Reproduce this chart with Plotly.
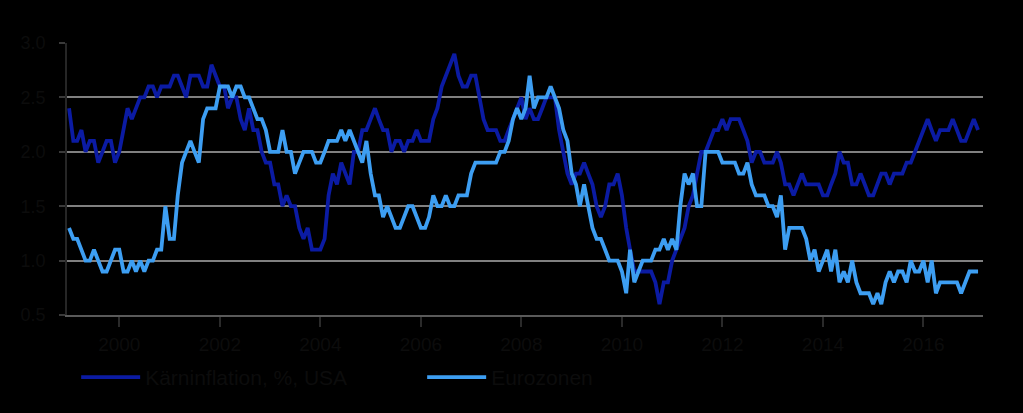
import pandas as pd
import plotly.graph_objects as go

# Monthly, Jan 1999 - Feb 2017
start_month = "1999-01-01"

usa_core = [
    2.4, 2.1, 2.1, 2.2, 2.0, 2.1, 2.1, 1.9, 2.0, 2.1, 2.1, 1.9,   # 1999
    2.0, 2.2, 2.4, 2.3, 2.4, 2.5, 2.5, 2.6, 2.6, 2.5, 2.6, 2.6,   # 2000
    2.6, 2.7, 2.7, 2.6, 2.5, 2.7, 2.7, 2.7, 2.6, 2.6, 2.8, 2.7,   # 2001
    2.6, 2.6, 2.4, 2.5, 2.5, 2.3, 2.2, 2.4, 2.2, 2.2, 2.0, 1.9,   # 2002
    1.9, 1.7, 1.7, 1.5, 1.6, 1.5, 1.5, 1.3, 1.2, 1.3, 1.1, 1.1,   # 2003
    1.1, 1.2, 1.6, 1.8, 1.7, 1.9, 1.8, 1.7, 2.0, 2.0, 2.2, 2.2,   # 2004
    2.3, 2.4, 2.3, 2.2, 2.2, 2.0, 2.1, 2.1, 2.0, 2.1, 2.1, 2.2,   # 2005
    2.1, 2.1, 2.1, 2.3, 2.4, 2.6, 2.7, 2.8, 2.9, 2.7, 2.6, 2.6,   # 2006
    2.7, 2.7, 2.5, 2.3, 2.2, 2.2, 2.2, 2.1, 2.1, 2.2, 2.3, 2.4,   # 2007
    2.5, 2.3, 2.4, 2.3, 2.3, 2.4, 2.5, 2.5, 2.5, 2.2, 2.0, 1.8,   # 2008
    1.7, 1.8, 1.8, 1.9, 1.8, 1.7, 1.5, 1.4, 1.5, 1.7, 1.7, 1.8,   # 2009
    1.6, 1.3, 1.1, 0.9, 0.9, 0.9, 0.9, 0.9, 0.8, 0.6, 0.8, 0.8,   # 2010
    1.0, 1.1, 1.2, 1.3, 1.5, 1.6, 1.8, 2.0, 2.0, 2.1, 2.2, 2.2,   # 2011
    2.3, 2.2, 2.3, 2.3, 2.3, 2.2, 2.1, 1.9, 2.0, 2.0, 1.9, 1.9,   # 2012
    1.9, 2.0, 1.9, 1.7, 1.7, 1.6, 1.7, 1.8, 1.7, 1.7, 1.7, 1.7,   # 2013
    1.6, 1.6, 1.7, 1.8, 2.0, 1.9, 1.9, 1.7, 1.7, 1.8, 1.7, 1.6,   # 2014
    1.6, 1.7, 1.8, 1.8, 1.7, 1.8, 1.8, 1.8, 1.9, 1.9, 2.0, 2.1,   # 2015
    2.2, 2.3, 2.2, 2.1, 2.2, 2.2, 2.2, 2.3, 2.2, 2.1, 2.1, 2.2,   # 2016
    2.3, 2.2,                                                     # 2017
]

ez_core = [
    1.3, 1.2, 1.2, 1.1, 1.0, 1.0, 1.1, 1.0, 0.9, 0.9, 1.0, 1.1,   # 1999
    1.1, 0.9, 0.9, 1.0, 0.9, 1.0, 0.9, 1.0, 1.0, 1.1, 1.1, 1.5,   # 2000
    1.2, 1.2, 1.6, 1.9, 2.0, 2.1, 2.0, 1.9, 2.3, 2.4, 2.4, 2.4,   # 2001
    2.6, 2.6, 2.6, 2.5, 2.6, 2.6, 2.5, 2.5, 2.4, 2.3, 2.3, 2.2,   # 2002
    2.0, 2.0, 2.0, 2.2, 2.0, 2.0, 1.8, 1.9, 2.0, 2.0, 2.0, 1.9,   # 2003
    1.9, 2.0, 2.1, 2.1, 2.1, 2.2, 2.1, 2.2, 2.1, 2.0, 1.9, 2.1,   # 2004
    1.8, 1.6, 1.6, 1.4, 1.5, 1.4, 1.3, 1.3, 1.4, 1.5, 1.5, 1.4,   # 2005
    1.3, 1.3, 1.4, 1.6, 1.5, 1.5, 1.6, 1.5, 1.5, 1.6, 1.6, 1.6,   # 2006
    1.8, 1.9, 1.9, 1.9, 1.9, 1.9, 1.9, 2.0, 2.0, 2.1, 2.3, 2.4,   # 2007
    2.3, 2.4, 2.7, 2.4, 2.5, 2.5, 2.5, 2.6, 2.5, 2.4, 2.2, 2.1,   # 2008
    1.8, 1.7, 1.5, 1.7, 1.5, 1.3, 1.2, 1.2, 1.1, 1.0, 1.0, 1.0,   # 2009
    0.9, 0.7, 1.1, 0.8, 0.9, 1.0, 1.0, 1.0, 1.1, 1.1, 1.2, 1.1,   # 2010
    1.2, 1.1, 1.5, 1.8, 1.7, 1.8, 1.5, 1.5, 2.0, 2.0, 2.0, 2.0,   # 2011
    1.9, 1.9, 1.9, 1.9, 1.8, 1.8, 1.9, 1.7, 1.6, 1.6, 1.6, 1.5,   # 2012
    1.5, 1.4, 1.6, 1.1, 1.3, 1.3, 1.3, 1.3, 1.2, 1.0, 1.1, 0.9,   # 2013
    1.0, 1.1, 0.9, 1.1, 0.8, 0.9, 0.8, 1.0, 0.8, 0.7, 0.7, 0.7,   # 2014
    0.6, 0.7, 0.6, 0.8, 0.9, 0.8, 0.9, 0.9, 0.8, 1.0, 0.9, 0.9,   # 2015
    1.0, 0.8, 1.0, 0.7, 0.8, 0.8, 0.8, 0.8, 0.8, 0.7, 0.8, 0.9,   # 2016
    0.9, 0.9,                                                     # 2017
]

series_names = ["Kärninflation, %, USA", "Eurozonen"]
x_tick_years = [2000, 2002, 2004, 2006, 2008, 2010, 2012, 2014, 2016]
y_ticks = [0.5, 1.0, 1.5, 2.0, 2.5, 3.0]

dates = pd.date_range(start_month, periods=len(usa_core), freq="MS")

DARK = "#0b1ba3"
LIGHT = "#3d9ef2"
TEXT = "#0c0c0c"
GRID = "#808080"

fig = go.Figure()
fig.add_trace(go.Scatter(x=dates, y=usa_core, mode="lines", name=series_names[0],
                         line=dict(color=DARK, width=3.8)))
fig.add_trace(go.Scatter(x=dates, y=ez_core, mode="lines", name=series_names[1],
                         line=dict(color=LIGHT, width=3.8)))

fig.update_layout(
    width=1023, height=413,
    margin=dict(l=67, r=40, t=43, b=98),
    paper_bgcolor="black", plot_bgcolor="black",
    font=dict(family="Liberation Sans, Arial", size=18, color=TEXT),
    showlegend=True,
    legend=dict(orientation="h", x=0.01, y=-0.23, xanchor="left", yanchor="middle",
                itemwidth=59, entrywidth=272, entrywidthmode="pixels",
                font=dict(size=21, color=TEXT), bgcolor="rgba(0,0,0,0)"),
)

fig.update_xaxes(
    type="date",
    range=["1998-12-17", "2017-03-09"],
    tickvals=[f"{y}-01-01" for y in x_tick_years],
    ticktext=[str(y) for y in x_tick_years],
    tickfont=dict(size=19, color=TEXT),
    showgrid=False, zeroline=False,
    showline=True, linecolor="#5a5a5a", linewidth=1.5,
    ticks="outside", ticklen=10, tickcolor="#2a2a2a", tickwidth=1.5,
    ticklabelstandoff=1,
)
fig.update_yaxes(
    range=[0.5, 3.0],
    tickvals=y_ticks,
    ticktext=[f"{v:.1f}" for v in y_ticks],
    tickfont=dict(size=18, color=TEXT),
    showgrid=True, gridcolor=GRID, gridwidth=1.5,
    zeroline=False,
    showline=True, linecolor="#262626", linewidth=1.5,
    ticks="outside", ticklen=6, tickcolor="#3a3a3a", tickwidth=1.5,
    ticklabelstandoff=10,
)

fig.write_html("out.html")
